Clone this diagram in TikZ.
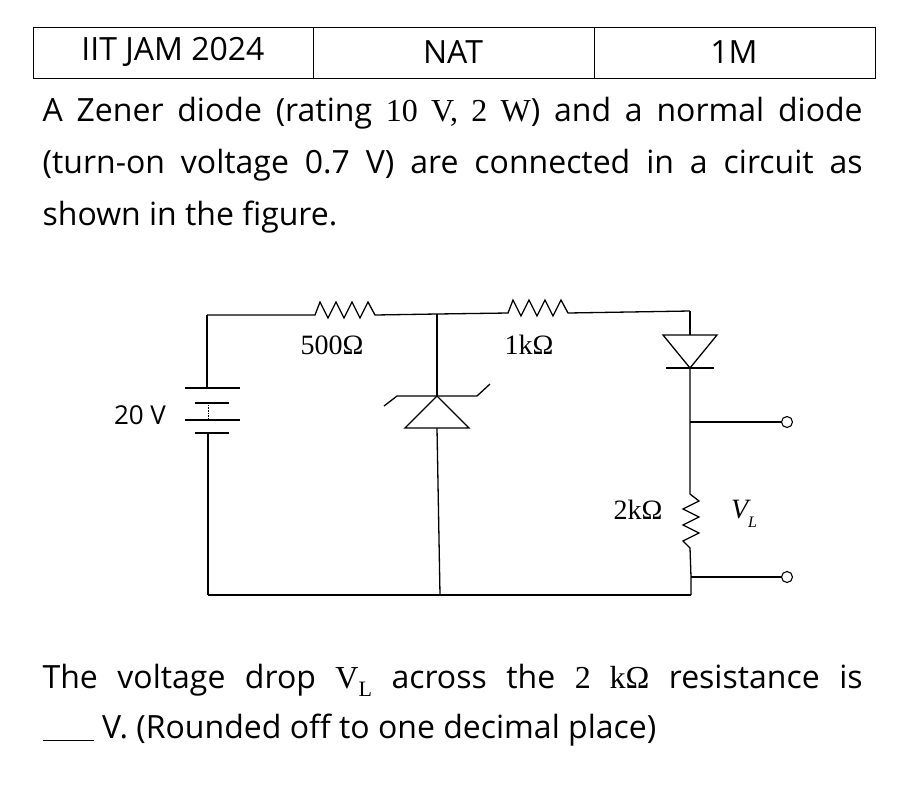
\documentclass[tikz,border=0pt]{standalone}
\usepackage{fontspec}
\setmainfont{Open Sans}
\newfontfamily\serf{Liberation Serif}
\usetikzlibrary{positioning}

\begin{document}
\begin{tikzpicture}[x=1pt,y=-1pt,line width=1.3pt,
    wire/.style={line width=1.3pt},
    txt/.style={inner sep=0pt,anchor=west,font=\fontsize{32}{35}\selectfont},
    lbl/.style={inner sep=0pt,font=\fontsize{28}{30}\selectfont\serf},
    term/.style={circle,draw,fill=white,inner sep=0pt,minimum size=11pt,line width=1.1pt}]
    \useasboundingbox (0,0) rectangle (907,788);
    % header table
    \draw[line width=0.9pt] (33,27) rectangle (875,78);
    \draw[line width=0.9pt] (313,27) -- (313,78) (594,27) -- (594,78);
    \node[txt,anchor=center] (exam) at (173,52) {IIT JAM 2024};
    \node[txt,anchor=center] (type) at (453,52) {NAT};
    \node[txt,anchor=center] (mark) at (734,52) {1M};
    % question text
    \node[txt] (q1) at (42,113) {\makebox[820pt][s]{A Zener diode (rating {\serf 10 V, 2 W}) and a normal diode}};
    \node[txt] (q2) at (42,165) {\makebox[820pt][s]{(turn-on voltage 0.7 V) are connected in a circuit as}};
    \node[txt] (q3) at (42,217) {shown in the figure.};
    \node[txt] (q4) at (42,680) {\makebox[820pt][s]{The voltage drop {\serf V\raisebox{-0.25em}{\fontsize{22}{23}\selectfont L}} across the {\serf 2 kΩ} resistance is}};
    \node[txt] (q5) at (42,730) {\underline{\hspace{1.6em}} V. (Rounded off to one decimal place)};

    % circuit nodes
    \coordinate (tl) at (207,315);
    \coordinate (bl) at (208,595);
    \coordinate (zt) at (437,314);
    \coordinate (zb) at (440,595);
    \coordinate (tr) at (690,311);
    \coordinate (br) at (691,595);
    \coordinate (o1) at (690,422);
    \coordinate (o2) at (691,577);
    \node[term] (t1) at (787,422) {};
    \node[term] (t2) at (787,577) {};

    % top wire with resistors
    \draw[wire] (tl) -- (315,315) -- ++(5,-13) -- ++(8,16) -- ++(8,-16) -- ++(8,16) -- ++(8,-16) -- ++(8,16) -- ++(8,-16) -- ++(7,13) -- (zt);
    \draw[wire] (zt) -- (508,313) -- ++(5,-13) -- ++(8,16) -- ++(8,-16) -- ++(8,16) -- ++(8,-16) -- ++(8,16) -- ++(8,-16) -- ++(7,13) -- (tr);
    \node[lbl] (r1) at (332,345) {500Ω};
    \node[lbl] (r2) at (529,345) {1kΩ};

    % battery
    \draw[wire] (tl) -- (207,388);
    \draw[wire] (185,388) -- (240,388);
    \draw[wire] (195,403) -- (229,403);
    \draw[line width=0.6pt,densely dotted] (208,405) -- (208,418);
    \draw[wire] (185,420) -- (240,420);
    \draw[wire] (195,433) -- (229,433);
    \draw[wire] (208,433) -- (bl);
    \node[font=\fontsize{26}{28}\selectfont,inner sep=0pt] (bv) at (140,415) {20 V};

    % zener diode
    \draw[wire] (zt) -- (437,396);
    \draw[wire] (405,428) -- (469,428) -- (437,396) -- cycle;
    \draw[wire] (384,406) -- (397,396) -- (477,396) -- (490,384);
    \draw[wire] (437,428) -- (zb);

    % normal diode and load
    \draw[wire] (tr) -- (690,335);
    \draw[wire] (663,335) -- (717,335) -- (690,368) -- cycle;
    \draw[wire] (666,368) -- (714,368);
    \draw[wire] (690,368) -- (o1) -- (690,494) -- ++(9,7) -- ++(-16,8) -- ++(16,8) -- ++(-16,8) -- ++(16,8) -- ++(-16,8) -- ++(7,7) -- (o2) -- (br);
    \draw[wire] (o1) -- (t1);
    \draw[wire] (o2) -- (t2);
    \node[lbl] (r3) at (638,510) {2kΩ};
    \node[lbl] (vl) at (744,514) {\itshape V\raisebox{-0.3em}{\fontsize{16}{17}\selectfont L}};

    % ground wire
    \draw[wire] (bl) -- (zb) -- (br);
\end{tikzpicture}
\end{document}
